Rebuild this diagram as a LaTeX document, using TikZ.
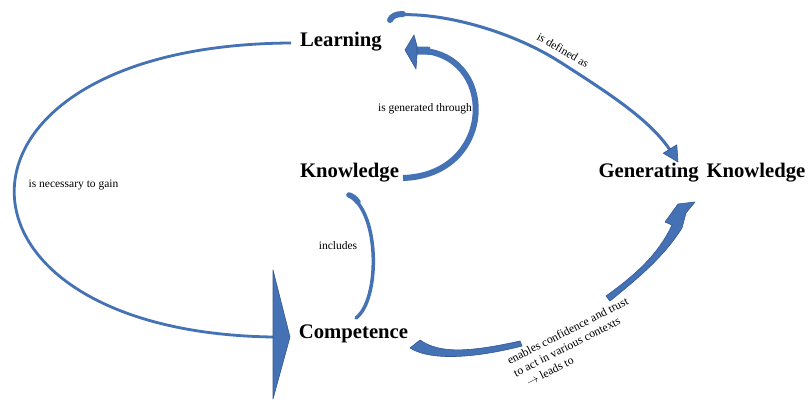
\documentclass[tikz,border=0pt]{standalone}
\usepackage{fontspec}
\setmainfont{Liberation Serif}
\definecolor{afill}{RGB}{68,114,180}
\definecolor{aline}{RGB}{50,88,148}
\tikzset{
  concept/.style={font=\fontsize{20.7}{24}\selectfont\bfseries, inner sep=0pt, anchor=base},
  lbl/.style={font=\fontsize{11.5}{13}\selectfont, inner sep=0pt, anchor=base},
  blockarrow/.style={fill=afill, draw=aline, line width=0.6pt, line join=round},
  thinarrow/.style={draw=afill, line width=2.8pt},
}
\begin{document}
\begin{tikzpicture}[x=1pt,y=-1pt]
\useasboundingbox (0,0) rectangle (808,403);
\fill[white] (0,0) rectangle (808,403);

% concepts
\node[concept] (learn) at (341,47) {Learning};
\node[concept] (know) at (349.5,178) {Knowledge};
\node[concept] (gen) at (702,178) {Generating\hspace{0.38em}Knowledge};
\node[concept] (comp) at (353.5,338) {Competence};

% anchor points of connectors
\coordinate (ls) at (291,43);
\coordinate (le) at (273,337);

% Learning -> Competence (big loop)
\draw[thinarrow] (ls) .. controls (-75,45) and (-75,332) .. (le);
\path[blockarrow] (273,270) -- (290,337) -- (273,399) -- cycle;

% Knowledge -> Learning
\draw[afill, line width=6pt] (403,178) .. controls (497,175) and (498,51) .. (417,50.5);
\draw[afill, line width=8pt] (430,50.8) -- (416,50.5);
\path[blockarrow] (417,46) -- (414,35) -- (405,50) -- (416,69) -- (417,55) -- cycle;

% Learning -> Generating Knowledge
\draw[afill, line width=6pt, line cap=round] (390,20) .. controls (392,16) and (396,14) .. (403,14);
\draw[thinarrow, line width=3pt] (397,15) .. controls (440,12) and (510,30) .. (560,62)
  .. controls (610,94) and (650,120) .. (670,150);
\path[blockarrow] (676.8,144.8) -- (678,162) -- (663.2,153.2) -- cycle;

% Knowledge -> Competence
\draw[afill, line width=3.5pt, line cap=round] (350,196) .. controls (380,214) and (380,300) .. (356,318);
\draw[afill, line width=5.5pt, line cap=round] (349,195) .. controls (352,196) and (355,198) .. (358,202);

% Competence -> Generating Knowledge (tail and head pieces)
\path[blockarrow] (420,340) .. controls (440,354) and (470,352) .. (520,341)
  -- (522,346) .. controls (480,357) and (432,362) .. (410,348) -- cycle;
\path[blockarrow] (606,296) .. controls (635,275) and (658,255) .. (672,225)
  -- (665,222) -- (678,204) -- (695,202) -- (686,213) -- (682,228)
  .. controls (663,258) and (637,279) .. (610,301) -- cycle;

% labels
\node[lbl] (l1) at (425,112) {is generated through};
\node[lbl] (l2) at (73.5,188) {is necessary to gain};
\node[lbl] (l3) at (338,250) {includes};
\node[lbl, anchor=center, rotate=-30] (l4) at (563,50) {is defined as};
\node[font=\fontsize{11.8}{14}\selectfont, align=left, inner sep=0pt, rotate=27, anchor=center] (l5) at (574,343)
  {enables confidence and trust\\to act in various contexts\\\hspace{0.6em}$\rightarrow$ leads to};
\end{tikzpicture}
\end{document}
